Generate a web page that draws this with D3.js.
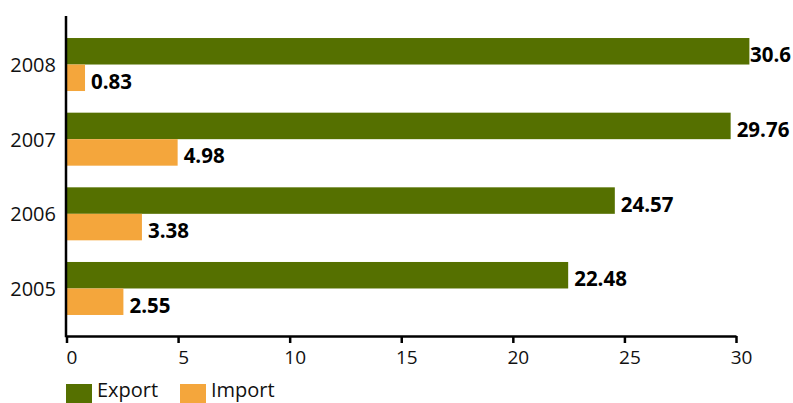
<!DOCTYPE html>
<html><head><meta charset="utf-8">
<script src="https://cdn.jsdelivr.net/npm/d3@7"></script>
<style>body{margin:0;background:#fff}svg{display:block;font-family:"Open Sans",sans-serif}</style>
</head><body>
<svg id="c" width="793" height="403"></svg>
<script>
const years = ["2008","2007","2006","2005"];
const exportVals = [30.6, 29.76, 24.57, 22.48];
const importVals = [0.83, 4.98, 3.38, 2.55];
const seriesNames = ["Export","Import"];
const xTicks = [0,5,10,15,20,25,30];
const colors = ["#557000","#f4a63c"];

const W = 793;
const svg = d3.select("#c");
const x = d3.scaleLinear().domain([0,30]).range([66.5,736]);
const y = d3.scaleBand().domain(years).range([16,337]).paddingInner(0.29).paddingOuter(0.295);
const bh = y.bandwidth()/2;

const data = years.map((yr,i)=>({yr, vals:[exportVals[i], importVals[i]]}));
const g = svg.append("g");
data.forEach(d=>{
  d.vals.forEach((v,j)=>{
    const top = y(d.yr)+j*bh;
    g.append("rect").attr("x",x(0)).attr("y",top).attr("width",x(v)-x(0)).attr("height",bh).attr("fill",colors[j]);
    const t = g.append("text").attr("x",x(v)+6).attr("y",top+bh/2+11).attr("font-size",20.5).attr("font-weight","bold").attr("fill","#000").text(String(v));
    const w = t.node().getComputedTextLength();
    if (x(v)+6+w > W-2) t.attr("x", W-2-w);
  });
  svg.append("text").attr("x",56).attr("y",y(d.yr)+y.bandwidth()/2+7.5).attr("text-anchor","end").attr("font-size",20).attr("fill","#111").text(d.yr);
});

// axes
const xa = svg.append("g").attr("transform","translate(0,336)")
  .call(d3.axisBottom(x).tickValues(xTicks).tickSize(7).tickSizeOuter(0).tickPadding(8));
xa.select(".domain").attr("stroke","#000").attr("stroke-width",2.5);
xa.selectAll(".tick line").attr("stroke","#000").attr("stroke-width",2.5);
xa.selectAll(".tick text").attr("font-size",19).attr("font-family","Open Sans").attr("fill","#111").attr("dx",5);
svg.append("line").attr("x1",66).attr("x2",66).attr("y1",16).attr("y2",337.2).attr("stroke","#000").attr("stroke-width",2.5);

// legend
const lx = [66,180];
seriesNames.forEach((n,j)=>{
  svg.append("rect").attr("x",lx[j]).attr("y",384).attr("width",26).attr("height",19).attr("fill",colors[j]);
  svg.append("text").attr("x",lx[j]+31).attr("y",397).attr("font-size",20).attr("fill","#111").text(n);
});
</script>
</body></html>
